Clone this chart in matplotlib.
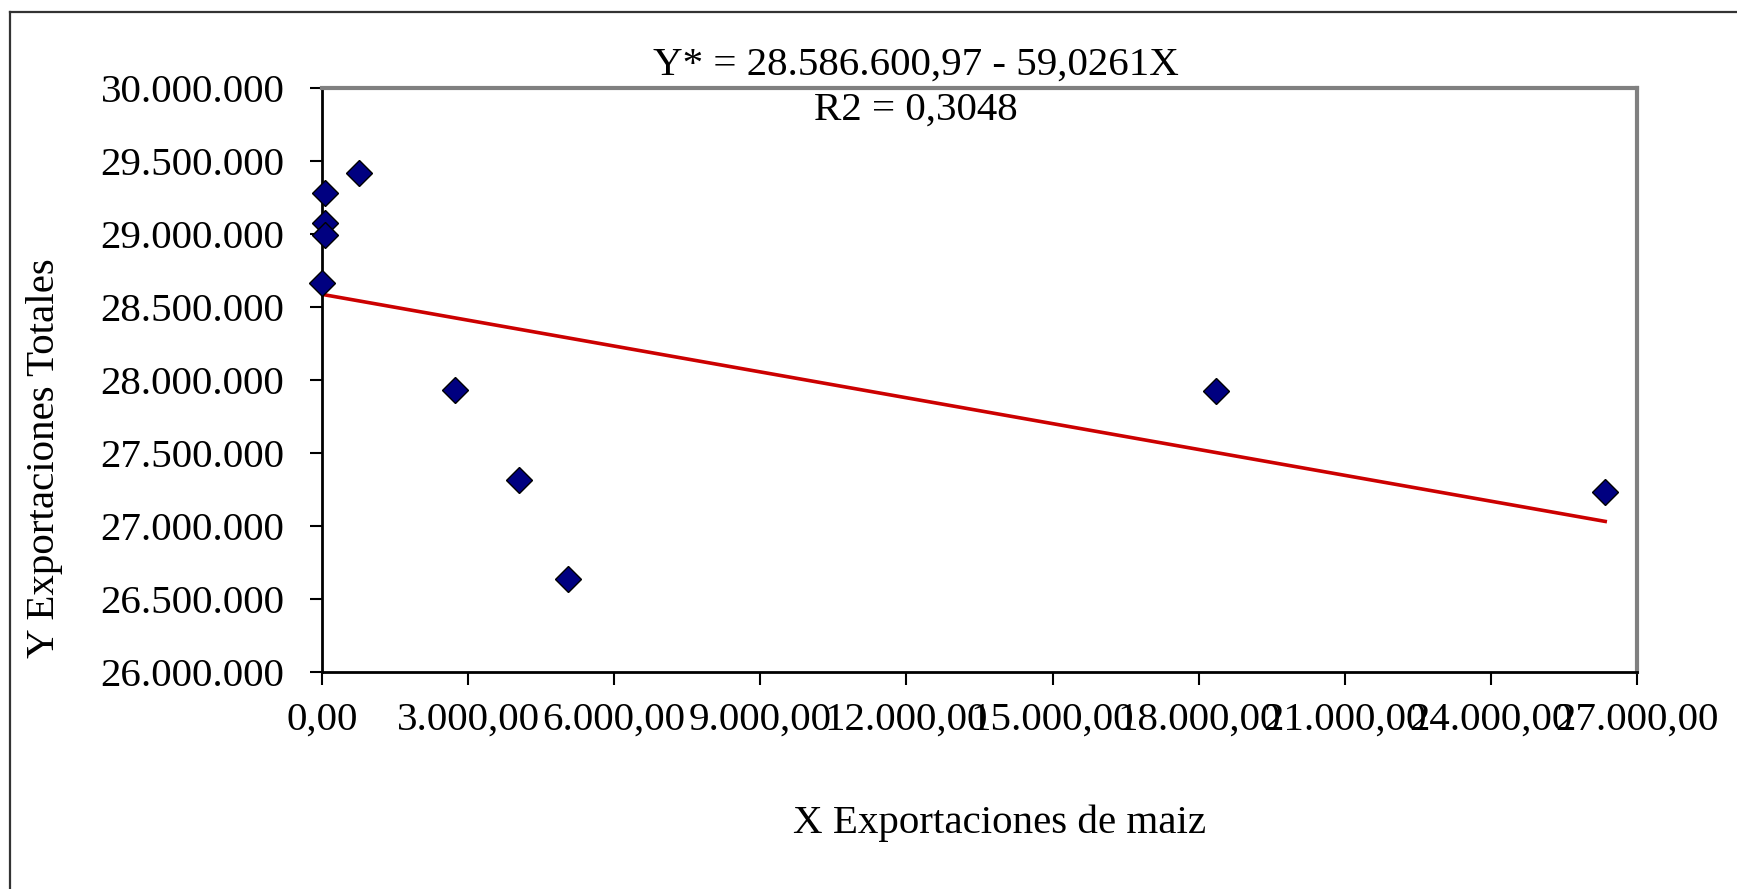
import matplotlib
matplotlib.use("Agg")
import matplotlib.pyplot as plt
from matplotlib.lines import Line2D
from matplotlib.ticker import FuncFormatter, MultipleLocator

# X Exportaciones de maiz / Y Exportaciones Totales
x_maiz = [0, 68, 68, 68, 751, 2731, 4045, 5045, 18364, 26347]
y_total = [28662000, 29279000, 29073000, 28993000, 29420000,
           27932000, 27315000, 26635000, 27924000, 27234000]

intercept = 28586600.97
slope = -59.0261
eq_text = "Y* = 28.586.600,97 - 59,0261X"
r2_text = "R2 = 0,3048"

W, H = 1737, 889
FONT = "Liberation Serif"
FS = 29.5

fig = plt.figure(figsize=(W / 100, H / 100), dpi=100)
fig.patch.set_facecolor("white")

# outer chart frame (top + left only, rest is cropped)
fig.add_artist(Line2D([10 / W, 10 / W], [0, 1 - 12 / H], color="#333333", lw=1.6,
                      transform=fig.transFigure))
fig.add_artist(Line2D([10 / W, 1], [1 - 12 / H, 1 - 12 / H], color="#333333", lw=1.6,
                      transform=fig.transFigure))

ax = fig.add_axes([322 / W, 1 - 672 / H, (1637 - 322) / W, (672 - 88) / H])

# trend line across the data range
xs = [min(x_maiz), max(x_maiz)]
ax.plot(xs, [intercept + slope * v for v in xs], color="#CC0000", lw=2.6, zorder=2)
ax.plot(x_maiz, y_total, "D", ms=13, mfc="#000080", mec="black", mew=1.0,
        ls="none", zorder=3, clip_on=False)

ax.set_xlim(0, 27000)
ax.set_ylim(26000000, 30000000)
ax.xaxis.set_major_locator(MultipleLocator(3000))
ax.yaxis.set_major_locator(MultipleLocator(500000))
ax.xaxis.set_major_formatter(FuncFormatter(
    lambda v, p: f"{v:,.2f}".replace(",", "X").replace(".", ",").replace("X", ".")))
ax.yaxis.set_major_formatter(FuncFormatter(
    lambda v, p: f"{v:,.0f}".replace(",", ".")))

ax.tick_params(axis="both", direction="out", length=9, width=1.5, colors="black",
               labelsize=FS)
ax.tick_params(axis="y", pad=18)
ax.tick_params(axis="x", pad=12)
for lab in ax.get_xticklabels() + ax.get_yticklabels():
    lab.set_fontfamily(FONT)

for side in ("left", "bottom"):
    ax.spines[side].set_color("black")
    ax.spines[side].set_linewidth(2)
for side in ("top", "right"):
    ax.spines[side].set_color("#808080")
    ax.spines[side].set_linewidth(3)

fig.text(916 / W, 1 - 75 / H, eq_text, ha="center", va="baseline",
         fontsize=FS, family=FONT)
fig.text(916 / W, 1 - 120 / H, r2_text, ha="center", va="baseline",
         fontsize=FS, family=FONT)

fig.text(1000 / W, 1 - 833 / H, "X Exportaciones de maiz", ha="center", va="baseline",
         fontsize=FS, family=FONT)
fig.text(45 / W, 1 - 458 / H, "Y Exportaciones Totales", ha="center", va="center",
         rotation=90, fontsize=FS, family=FONT)

fig.savefig("out.png", dpi=100)
